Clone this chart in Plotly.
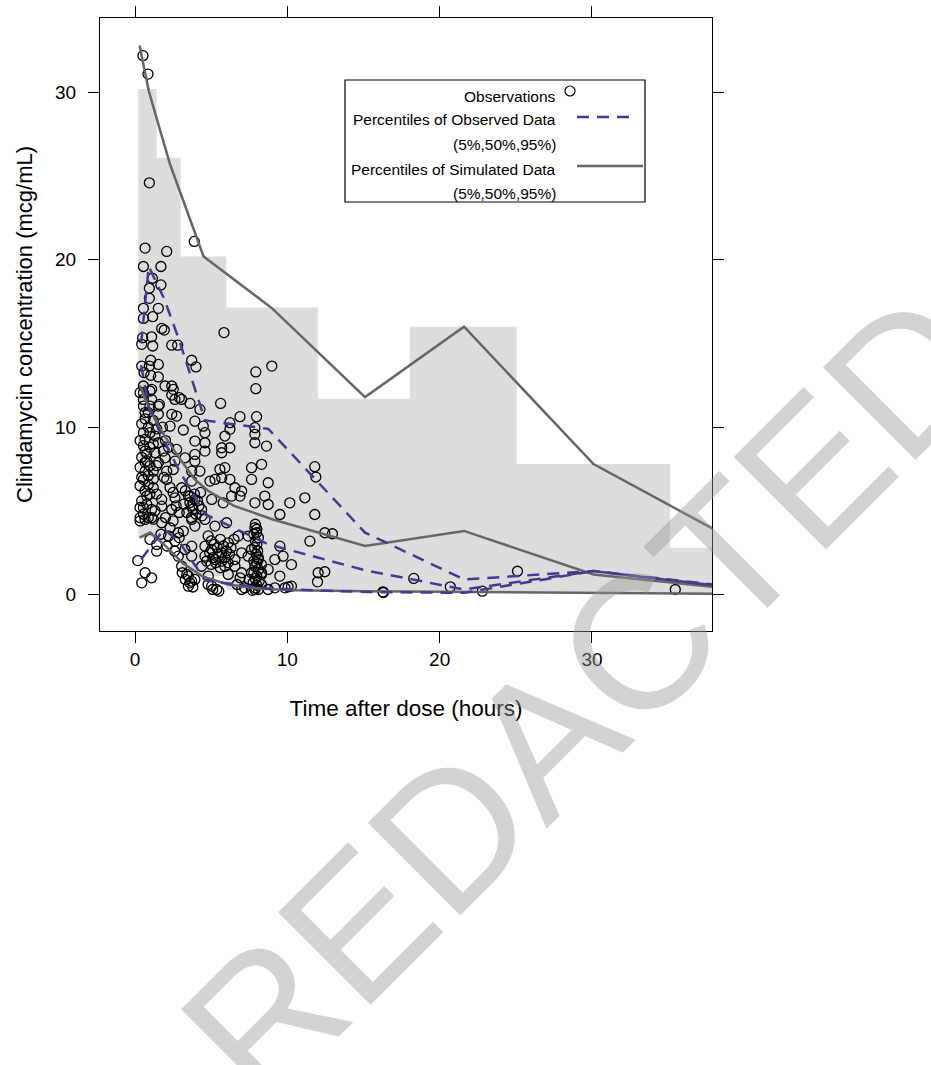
import plotly.graph_objects as go

FONT = "Liberation Sans, Arial, Helvetica, sans-serif"

# ---------------- observed concentrations ----------------
obs_time = [
    0.52, 0.85, 0.94, 3.89, 0.66, 2.08, 0.55, 1.70, 1.14, 1.70,
    0.94, 0.94, 0.55, 1.53, 1.16, 0.55, 1.75, 1.92, 5.84, 1.09,
    0.50, 0.44, 1.16, 2.41, 2.80, 3.72, 1.03, 4.00, 7.93, 8.98,
    7.93, 0.44, 0.94, 1.53, 0.59, 1.03, 1.53, 0.55, 0.55, 1.09,
    1.97, 2.41, 2.51, 2.41, 2.91, 3.61, 5.62, 1.60, 1.09, 4.26,
    0.55, 0.33, 0.98, 0.87, 0.55, 0.98, 1.53, 0.66, 1.53, 2.62,
    3.06, 2.41, 2.73, 2.30, 3.17, 3.93, 4.48, 6.89, 7.98, 7.87,
    7.87, 6.23, 6.23, 4.59, 5.90, 6.23, 5.69, 5.69, 7.87, 8.63,
    3.93, 4.59, 4.59, 0.55, 0.98, 0.66, 1.31, 1.53, 0.66, 1.31,
    1.86, 2.73, 1.97, 3.28, 3.93, 3.93, 2.62, 0.77, 1.53, 8.31,
    0.66, 1.20, 2.08, 2.51, 0.55, 0.87, 1.20, 2.08, 3.06, 3.72,
    4.26, 3.72, 4.92, 5.25, 5.57, 5.90, 5.69, 6.23, 7.65, 7.65,
    8.74, 6.56, 7.00, 2.62, 1.75, 0.77, 0.55, 1.09, 1.75, 2.41,
    3.61, 3.93, 3.72, 4.37, 5.03, 5.79, 6.34, 6.89, 7.87, 8.52,
    8.74, 10.16, 11.15, 11.80, 11.87, 11.80, 9.51, 0.33, 0.66, 1.09,
    1.75, 2.30, 2.84, 3.17, 3.72, 3.93, 4.59, 5.25, 6.01, 6.77,
    7.43, 7.87, 7.98, 9.51, 11.48, 12.46, 12.96, 1.42, 1.42, 0.98,
    2.62, 3.28, 3.72, 4.59, 5.03, 5.69, 6.12, 7.00, 7.65, 9.72,
    0.18, 0.66, 0.44, 1.09, 3.72, 4.59, 6.56, 7.43, 7.87, 8.09,
    8.31, 7.65, 7.00, 6.56, 6.12, 8.74, 9.18, 3.50, 3.72, 3.93,
    4.81, 5.03, 5.36, 7.00, 7.87, 8.74, 9.18, 10.05, 2.84, 3.06,
    4.37, 5.25, 5.90, 10.27, 9.51, 12.02, 12.46, 11.98, 10.27, 9.84,
    16.28, 16.30, 18.30, 20.70, 22.80, 25.11, 35.47,
    7.90, 8.00, 7.80, 8.10, 7.90, 8.00, 7.85, 8.05, 7.95, 8.10,
    7.80, 8.00, 7.90, 8.10, 7.80, 8.00, 7.90, 8.15, 7.75, 8.00,
    7.90, 8.10, 7.70, 8.30, 8.30, 8.30,
    4.8, 5.0, 5.2, 5.4, 5.6, 5.8, 6.0, 4.9, 5.1, 5.3,
    5.5, 5.7, 5.9, 6.1, 4.7, 5.0, 5.6, 6.2, 6.3, 6.5,
    3.3, 3.5, 3.6, 3.8, 4.0, 4.2, 3.4, 3.9, 4.1, 4.3, 3.7, 3.2, 4.4,
    0.44, 0.66, 0.87, 0.33, 0.55, 0.98, 0.44, 0.77, 0.33, 0.66,
    0.98, 0.44, 0.87, 0.33, 0.66, 0.98, 0.44, 0.77, 0.33, 0.55,
    0.87, 0.33, 1.20, 1.31, 1.42, 1.20, 1.42, 1.20, 1.42, 1.20,
    1.8, 2.0, 2.2, 1.9, 2.3, 2.5, 2.7, 2.9, 2.0, 2.2, 2.5, 1.7, 2.1, 2.6, 2.9,
    3.1, 3.3, 3.5, 3.6, 3.8, 3.4, 4.8, 5.1, 5.5, 6.7, 7.2, 7.5, 6.9,
]
obs_conc = [
    32.2, 31.1, 24.6, 21.1, 20.7, 20.5, 19.6, 19.6, 18.9, 18.5,
    18.3, 17.7, 17.1, 17.1, 16.6, 16.5, 15.9, 15.8, 15.65, 15.4,
    15.35, 14.95, 14.85, 14.9, 14.9, 14.0, 14.0, 13.6, 13.3, 13.65,
    12.3, 13.65, 13.65, 13.75, 13.26, 13.1, 13.0, 12.46, 12.06, 12.26,
    12.46, 12.46, 12.26, 11.92, 11.76, 11.42, 11.42, 11.36, 11.66, 11.06,
    11.26, 12.06, 12.16, 10.87, 11.66, 11.26, 11.26, 10.87, 10.77, 11.66,
    11.66, 10.77, 10.66, 10.06, 9.83, 10.36, 10.06, 10.63, 10.63, 9.97,
    9.57, 10.27, 9.87, 9.67, 9.47, 8.77, 8.77, 8.47, 9.07, 8.87,
    9.17, 9.07, 8.57, 9.67, 9.67, 9.27, 9.47, 9.07, 8.57, 8.47,
    8.57, 8.67, 8.17, 8.17, 8.37, 7.97, 7.97, 7.97, 7.88, 7.78,
    7.37, 7.37, 7.37, 7.47, 6.88, 6.58, 6.38, 6.88, 6.38, 7.37,
    7.37, 6.78, 6.78, 6.88, 7.48, 7.58, 6.98, 6.88, 7.58, 6.88,
    6.68, 6.38, 6.18, 5.78, 5.68, 5.88, 5.19, 5.08, 5.28, 5.08,
    5.88, 5.68, 5.28, 5.08, 5.68, 5.48, 5.88, 5.88, 5.48, 5.88,
    5.38, 5.48, 5.78, 7.64, 7.02, 4.78, 4.78, 4.59, 4.49, 4.59,
    4.29, 3.99, 3.69, 3.79, 4.49, 4.09, 4.49, 4.09, 4.29, 3.49,
    3.49, 3.99, 3.69, 2.89, 3.19, 3.69, 3.63, 2.99, 2.59, 3.29,
    3.19, 2.69, 2.89, 2.89, 2.69, 2.49, 3.09, 2.49, 2.69, 2.29,
    2.03, 1.30, 0.70, 1.00, 2.29, 2.29, 2.09, 2.29, 1.69, 2.09,
    1.30, 1.30, 1.30, 1.69, 1.20, 1.50, 2.09, 1.10, 0.80, 0.90,
    1.10, 0.50, 0.30, 0.30, 0.30, 0.30, 0.40, 0.46, 2.29, 1.69,
    1.69, 2.09, 1.69, 1.79, 1.10, 1.30, 1.36, 0.76, 0.50, 0.40,
    0.16, 0.12, 0.96, 0.46, 0.20, 1.39, 0.30,
    4.20, 3.90, 3.60, 3.40, 3.20, 3.00, 2.80, 2.60, 2.40, 2.20,
    2.00, 1.90, 1.70, 1.50, 1.30, 1.10, 0.95, 0.80, 0.70, 0.55,
    0.40, 0.30, 0.25, 0.60, 1.20, 1.80,
    3.5, 3.2, 3.0, 2.8, 3.3, 2.9, 2.6, 2.5, 2.2, 1.9,
    2.3, 2.0, 2.2, 1.9, 2.0, 1.8, 1.6, 2.4, 2.8, 3.3,
    6.2, 5.9, 5.5, 5.1, 4.8, 5.3, 4.9, 6.0, 5.6, 6.1, 4.6, 5.4, 4.7,
    10.2, 10.5, 10.0, 9.2, 8.9, 8.8, 8.2, 8.4, 7.6, 7.9,
    7.7, 7.0, 7.1, 6.5, 6.2, 6.0, 5.6, 5.4, 5.2, 4.8,
    4.6, 4.4, 4.5, 5.0, 6.0, 6.9, 7.7, 9.0, 9.9, 10.4,
    10.0, 9.2, 8.8, 7.0, 6.4, 6.1, 5.3, 4.9, 4.6, 3.5, 4.4, 3.6, 2.9, 2.6, 3.4,
    1.3, 0.9, 0.5, 0.7, 0.45, 1.2, 0.6, 0.3, 0.2, 0.6, 0.4, 0.9, 1.0,
]

# ---------------- simulated prediction band (per bin) ----------------
band_edges = [0.22, 1.42, 3.0, 6.0, 12.0, 18.05, 25.06, 35.13, 41.0]
band_upper = [30.2, 26.1, 20.2, 17.15, 11.7, 16.0, 7.8, 2.8]
band_lower = [3.4, 3.2, 1.1, 0.27, 0.15, 0.12, 0.10, 0.08]

# ---------------- simulated percentiles ----------------
sim95_t = [0.3, 0.9, 1.5, 2.3, 3.3, 4.5, 9.0, 15.1, 21.6, 30.1, 38.0]
sim95_v = [32.8, 30.1, 28.2, 25.7, 23.2, 20.2, 17.1, 11.8, 16.0, 7.8, 3.9]
sim50_t = [0.33, 0.7, 1.5, 2.8, 3.9, 4.8, 6.5, 9.0, 15.1, 21.6, 30.1, 38.0]
sim50_v = [12.5, 11.6, 10.1, 8.3, 6.9, 6.2, 5.3, 4.5, 2.9, 3.8, 1.2, 0.45]
sim05_t = [0.3, 1.0, 2.0, 3.1, 4.4, 6.1, 8.3, 10.5, 15.1, 21.6, 30.1, 38.0]
sim05_v = [3.4, 3.7, 2.9, 1.9, 1.1, 0.6, 0.34, 0.26, 0.2, 0.15, 0.1, 0.05]

# ---------------- observed percentiles ----------------
obsq_t = [0.4, 0.9, 1.9, 2.9, 4.6, 8.75, 15.1, 21.6, 30.1, 38.0]
obs95_v = [15.0, 19.6, 17.7, 15.2, 10.4, 9.9, 3.7, 0.9, 1.4, 0.6]
obs50_v = [13.7, 11.2, 9.2, 7.4, 4.8, 3.0, 1.45, 0.3, 1.4, 0.55]
obs05_v = [2.1, 2.7, 3.9, 3.15, 0.85, 0.35, 0.15, 0.1, 1.4, 0.55]

x_ticks = [0, 10, 20, 30]
y_ticks = [0, 10, 20, 30]

SIM_COL = "#666666"
OBS_COL = "#453b8e"
DASH = "12px,8px"

# band polygon built from the bin data
bx, by = [], []
for i, v in enumerate(band_upper):
    bx += [band_edges[i], band_edges[i + 1]]
    by += [v, v]
for i in reversed(range(len(band_lower))):
    bx += [band_edges[i + 1], band_edges[i]]
    by += [band_lower[i], band_lower[i]]

fig = go.Figure()
fig.add_trace(go.Scatter(x=bx, y=by, mode="lines", fill="toself",
                         fillcolor="#dddddd", line=dict(width=0),
                         hoverinfo="skip", showlegend=False))
fig.add_trace(go.Scatter(x=obs_time, y=obs_conc, mode="markers",
                         marker=dict(symbol="circle-open", size=10, color="black",
                                     line=dict(width=1.3, color="black")),
                         showlegend=False))
for t, v in [(sim95_t, sim95_v), (sim50_t, sim50_v), (sim05_t, sim05_v)]:
    fig.add_trace(go.Scatter(x=t, y=v, mode="lines",
                             line=dict(color=SIM_COL, width=2.5), showlegend=False))
for v in [obs95_v, obs50_v, obs05_v]:
    fig.add_trace(go.Scatter(x=obsq_t, y=v, mode="lines",
                             line=dict(color=OBS_COL, width=2.5, dash=DASH),
                             showlegend=False))

axis_common = dict(
    showgrid=False, zeroline=False, showline=True, linecolor="black", linewidth=1,
    mirror="ticks", ticks="outside", ticklen=11, tickwidth=1, tickcolor="black",
    tickfont=dict(family=FONT, size=19, color="black"),
)
fig.update_xaxes(range=[-2.30, 37.88], tickvals=x_ticks, ticktext=[str(v) for v in x_ticks],
                 title=dict(text="Time after dose (hours)", font=dict(family=FONT, size=22.5, color="black"),
                            standoff=31), **axis_common)
fig.update_yaxes(range=[-2.18, 34.45], tickvals=y_ticks, ticktext=[str(v) for v in y_ticks],
                 ticklabelstandoff=8,
                 title=dict(text="Clindamycin concentration (mcg/mL)", font=dict(family=FONT, size=22, color="black"),
                            standoff=16), **axis_common)

W, H = 931, 1065
L, R, T, B = 100, 219, 18, 434
PW, PH = W - L - R, H - T - B


def px(xp):
    return (xp - L) / PW


def py(yp):
    return (H - B - yp) / PH


shapes = [
    dict(type="rect", xref="paper", yref="paper", x0=px(345), x1=px(645), y0=py(202), y1=py(80),
         line=dict(color="black", width=1.2), fillcolor="white", layer="above"),
    dict(type="line", xref="paper", yref="paper", x0=px(577), x1=px(637), y0=py(117), y1=py(117),
         line=dict(color=OBS_COL, width=2.5, dash=DASH)),
    dict(type="line", xref="paper", yref="paper", x0=px(577), x1=px(643), y0=py(166), y1=py(166),
         line=dict(color=SIM_COL, width=2.5)),
    dict(type="circle", xref="paper", yref="paper", xsizemode="pixel", ysizemode="pixel",
         xanchor=px(570), yanchor=py(91), x0=-5, x1=5, y0=-5, y1=5,
         line=dict(color="black", width=1.2)),
]

leg_font = dict(family=FONT, size=15.5, color="black")
legend_rows = [
    ("Observations", 96),
    ("Percentiles of Observed Data", 120),
    ("(5%,50%,95%)", 145),
    ("Percentiles of Simulated Data", 169),
    ("(5%,50%,95%)", 193),
]
annotations = [dict(text=txt, xref="paper", yref="paper", x=px(558), y=py(yy),
                    xanchor="right", yanchor="middle", showarrow=False, font=leg_font)
               for txt, yy in legend_rows]
annotations.append(dict(text="REDACTED", xref="paper", yref="paper", x=px(585), y=py(697),
                        xanchor="center", yanchor="middle", showarrow=False, textangle=-45,
                        font=dict(family=FONT, size=190, color="rgba(150,150,150,0.42)")))

fig.update_layout(
    width=W, height=H, margin=dict(l=L, r=R, t=T, b=B, autoexpand=False),
    paper_bgcolor="white", plot_bgcolor="white", showlegend=False,
    shapes=shapes, annotations=annotations,
    font=dict(family=FONT, color="black"),
)

fig.write_html("out.html")
